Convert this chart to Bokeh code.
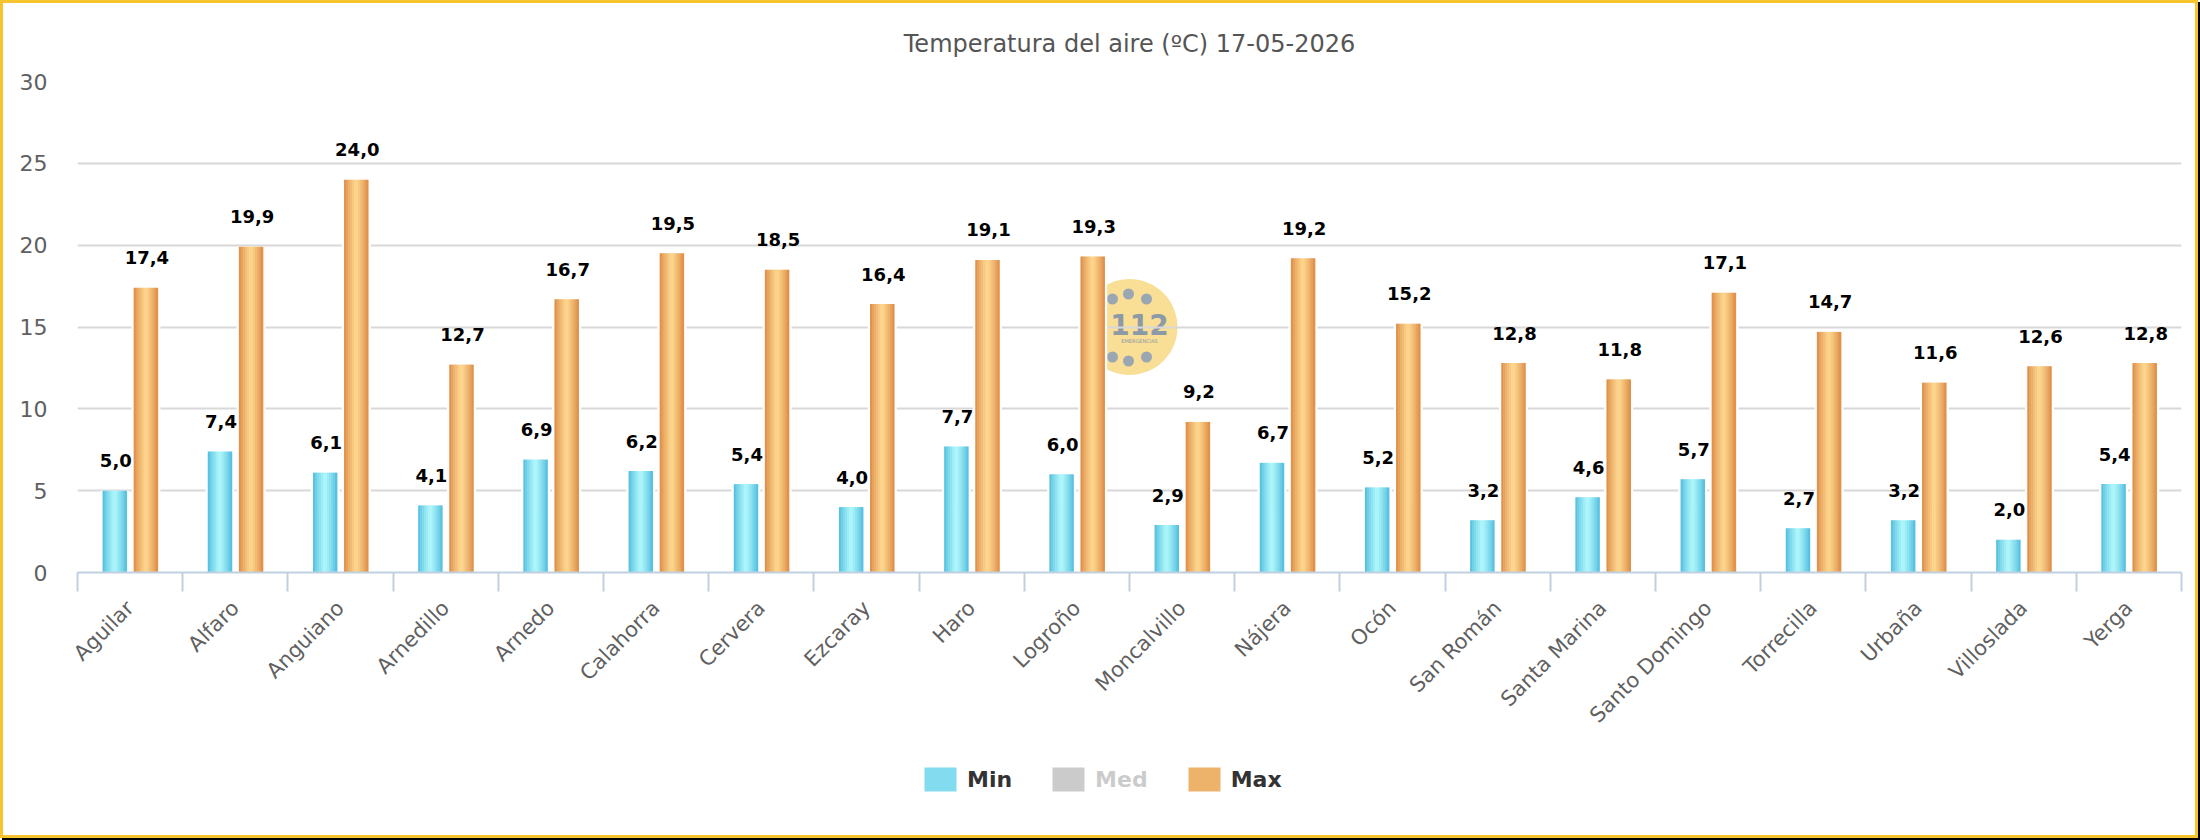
import math
import numpy as np
from bokeh.plotting import figure
from bokeh.layouts import column
from bokeh.models import (ColumnDataSource, Range1d, FixedTicker, LinearAxis, Legend,
                          LegendItem, Title, Grid)
from bokeh.embed import file_html
from bokeh.resources import INLINE
from bokeh.core.properties import value

# ---------------- data ----------------
stations = ["Aguilar", "Alfaro", "Anguiano", "Arnedillo", "Arnedo", "Calahorra", "Cervera",
            "Ezcaray", "Haro", "Logroño", "Moncalvillo", "Nájera", "Ocón", "San Román",
            "Santa Marina", "Santo Domingo", "Torrecilla", "Urbaña", "Villoslada", "Yerga"]
t_min = [5.0, 7.4, 6.1, 4.1, 6.9, 6.2, 5.4, 4.0, 7.7, 6.0, 2.9, 6.7, 5.2, 3.2, 4.6, 5.7, 2.7, 3.2, 2.0, 5.4]
t_max = [17.4, 19.9, 24.0, 12.7, 16.7, 19.5, 18.5, 16.4, 19.1, 19.3, 9.2, 19.2, 15.2, 12.8, 11.8, 17.1,
         14.7, 11.6, 12.6, 12.8]
y_ticks = [0, 5, 10, 15, 20, 25, 30]
series_names = ["Min", "Med", "Max"]
title_text = "Temperatura del aire (ºC) 17-05-2026"

# ---------------- layout constants ----------------
W = 2192
HP, HL = 742, 90
BL, BR, BT = 74, 14, 78
FRAME_H = 491
BB = HP - BT - FRAME_H
n = len(stations)
PPU = (W - BL - BR) / n                      # px per category unit
PPY = FRAME_H / (y_ticks[-1] - y_ticks[0])
BAR_PX = 24
OFF_MIN, OFF_MAX = -15.3, 15.8
NS = 12
FONT = "DejaVu Sans"
MIN_EDGE, MIN_MID = "#4ab8dc", "#b0f8fc"
MAX_EDGE, MAX_MID = "#db853e", "#fed88f"

centers = np.arange(n) + 0.5


def hex2rgb(h):
    h = h.lstrip("#")
    return tuple(int(h[i:i + 2], 16) for i in (0, 2, 4))


def mix(a, b, m):
    a, b = hex2rgb(a), hex2rgb(b)
    return "#%02x%02x%02x" % tuple(int(round(a[i] + (b[i] - a[i]) * m)) for i in range(3))


def stripe_source(vals, off_px, edge, mid):
    xs, tops, cols = [], [], []
    for k in range(NS):
        t = (k + 0.5) / NS
        m = (1 - abs(2 * t - 1)) ** 0.75
        c = mix(edge, mid, m)
        for i, v in enumerate(vals):
            xs.append(float(centers[i] + (off_px - BAR_PX / 2 + (k + 0.5) * BAR_PX / NS) / PPU))
            tops.append(v)
            cols.append(c)
    return ColumnDataSource(dict(x=xs, top=tops, color=cols))


p = figure(width=W, height=HP, output_backend="svg", toolbar_location=None,
           x_range=Range1d(0, n), y_range=Range1d(y_ticks[0], y_ticks[-1]),
           x_axis_type=None, y_axis_type=None,
           min_border_left=BL, min_border_right=BR, min_border_top=BT, min_border_bottom=BB)
p.outline_line_color = None
p.background_fill_color = "white"
p.border_fill_color = "white"

p.title = Title(text=title_text, align="center", text_font=FONT, text_font_size="24px",
                text_font_style="normal", text_color="#555555", standoff=48,
                text_line_height=0.85)

# axes
yaxis = LinearAxis(ticker=FixedTicker(ticks=y_ticks), axis_line_color=None,
                   major_tick_line_color=None, minor_tick_line_color=None,
                   major_tick_out=0, major_tick_in=0, minor_tick_out=0, minor_tick_in=0,
                   major_label_text_font=FONT, major_label_text_font_size="22px",
                   major_label_text_color="#606060", major_label_standoff=30)
p.add_layout(yaxis, "left")
p.add_layout(Grid(dimension=1, ticker=yaxis.ticker, grid_line_color="#d8d8d8", grid_line_width=2))

xaxis = LinearAxis(ticker=FixedTicker(ticks=[float(c) for c in centers],
                                      minor_ticks=[float(i) for i in range(n + 1)]),
                   major_label_overrides={float(c): s for c, s in zip(centers, stations)},
                   axis_line_color="#c0d0e0", axis_line_width=2,
                   major_tick_out=0, major_tick_in=0, major_tick_line_color=None,
                   minor_tick_out=19, minor_tick_in=0, minor_tick_line_color="#c0d0e0",
                   minor_tick_line_width=2,
                   major_label_orientation=math.pi / 4, major_label_standoff=13,
                   major_label_text_font=FONT, major_label_text_font_size="21px",
                   major_label_text_color="#606060")
p.add_layout(xaxis, "below")

# watermark logo (centred in plot area, below the grid)
cx = (p.x_range.start + p.x_range.end) / 2
cy = (p.y_range.start + p.y_range.end) / 2
r = p.scatter([cx], [cy], size=96, fill_color="#f9de95", line_color=None)
r.level = "image"
dot_dx = [-17, -1, 17, -17, -1, 17]
dot_dy = [28, 33, 28, -30, -34, -30]
r = p.scatter([cx + d / PPU for d in dot_dx], [cy + d / PPY for d in dot_dy], size=11,
              fill_color="#9aa6b2", line_color=None)
r.level = "image"
r = p.text([cx], [cy], text=["112"], text_font=value(FONT), text_font_style="bold",
           text_font_size="28px", text_color="#8c9aa8", text_align="center",
           text_baseline="middle", y_offset=-3, x_offset=10)
r.level = "image"
r = p.text([cx], [cy], text=["EMERGENCIAS"], text_font=value(FONT), text_font_size="5px",
           text_color="#8c9aa8", text_align="center", text_baseline="middle", y_offset=14, x_offset=10)
r.level = "image"

# white backing to cut grid lines around bars
back = ColumnDataSource(dict(
    x=[float(c + OFF_MIN / PPU) for c in centers] + [float(c + OFF_MAX / PPU) for c in centers],
    top=list(t_min) + list(t_max)))
p.vbar(x="x", top="top", bottom=0, width=(BAR_PX + 5) / PPU, source=back,
       fill_color="white", line_color=None)

src_min = stripe_source(t_min, OFF_MIN, MIN_EDGE, MIN_MID)
src_max = stripe_source(t_max, OFF_MAX, MAX_EDGE, MAX_MID)
sw = (BAR_PX / NS + 0.5) / PPU
p.vbar(x="x", top="top", bottom=0, width=sw, source=src_min, fill_color="color", line_color=None)
p.vbar(x="x", top="top", bottom=0, width=sw, source=src_max, fill_color="color", line_color=None)

# data labels
fmt = lambda v: f"{v:.1f}".replace(".", ",")
lab = ColumnDataSource(dict(
    x=[float(c + OFF_MIN / PPU) for c in centers] + [float(c + OFF_MAX / PPU) for c in centers],
    y=list(t_min) + list(t_max),
    t=[fmt(v) for v in t_min] + [fmt(v) for v in t_max]))
p.text(x="x", y="y", text="t", source=lab, text_font=value(FONT), text_font_style="bold",
       text_font_size="18px", text_color="#000000", text_align="center",
       text_baseline="middle", y_offset=-30, x_offset=1)

# ---------------- legend strip ----------------
lf = figure(width=W, height=HL, output_backend="svg", toolbar_location=None,
            x_range=Range1d(0, 1), y_range=Range1d(0, 1), x_axis_type=None, y_axis_type=None,
            min_border=0)
lf.outline_line_color = None
lf.background_fill_alpha = 0
lf.border_fill_alpha = 0
# legend proxies (their single bar lies completely outside the visible ranges)
lr_min = lf.vbar(x=[-5], top=[-5], bottom=-6, width=0.1, fill_color=mix(MIN_EDGE, MIN_MID, 0.55),
                 line_color=None)
lr_med = lf.vbar(x=[-5], top=[-5], bottom=-6, width=0.1, fill_color="#333333", line_color=None)
lr_med.visible = False
lr_max = lf.vbar(x=[-5], top=[-5], bottom=-6, width=0.1, fill_color=mix(MAX_EDGE, MAX_MID, 0.55),
                 line_color=None)

legend = Legend(items=[LegendItem(label=series_names[0], renderers=[lr_min]),
                       LegendItem(label=series_names[1], renderers=[lr_med]),
                       LegendItem(label=series_names[2], renderers=[lr_max])],
                orientation="horizontal", location=(843, 41), click_policy="hide",
                inactive_fill_color="white", inactive_fill_alpha=0.75,
                glyph_width=40, glyph_height=30, label_standoff=7, spacing=36,
                padding=0, margin=0, border_line_color=None, background_fill_alpha=0,
                label_text_font=FONT, label_text_font_style="bold", label_text_font_size="22px",
                label_text_color="#333333")
lf.add_layout(legend)

layout = column(p, lf, spacing=0,
                styles={"border": "3px solid #f8c42e", "box-shadow": "2px 2px 0 #000000"})

open("out.html", "w").write(file_html(layout, INLINE))
